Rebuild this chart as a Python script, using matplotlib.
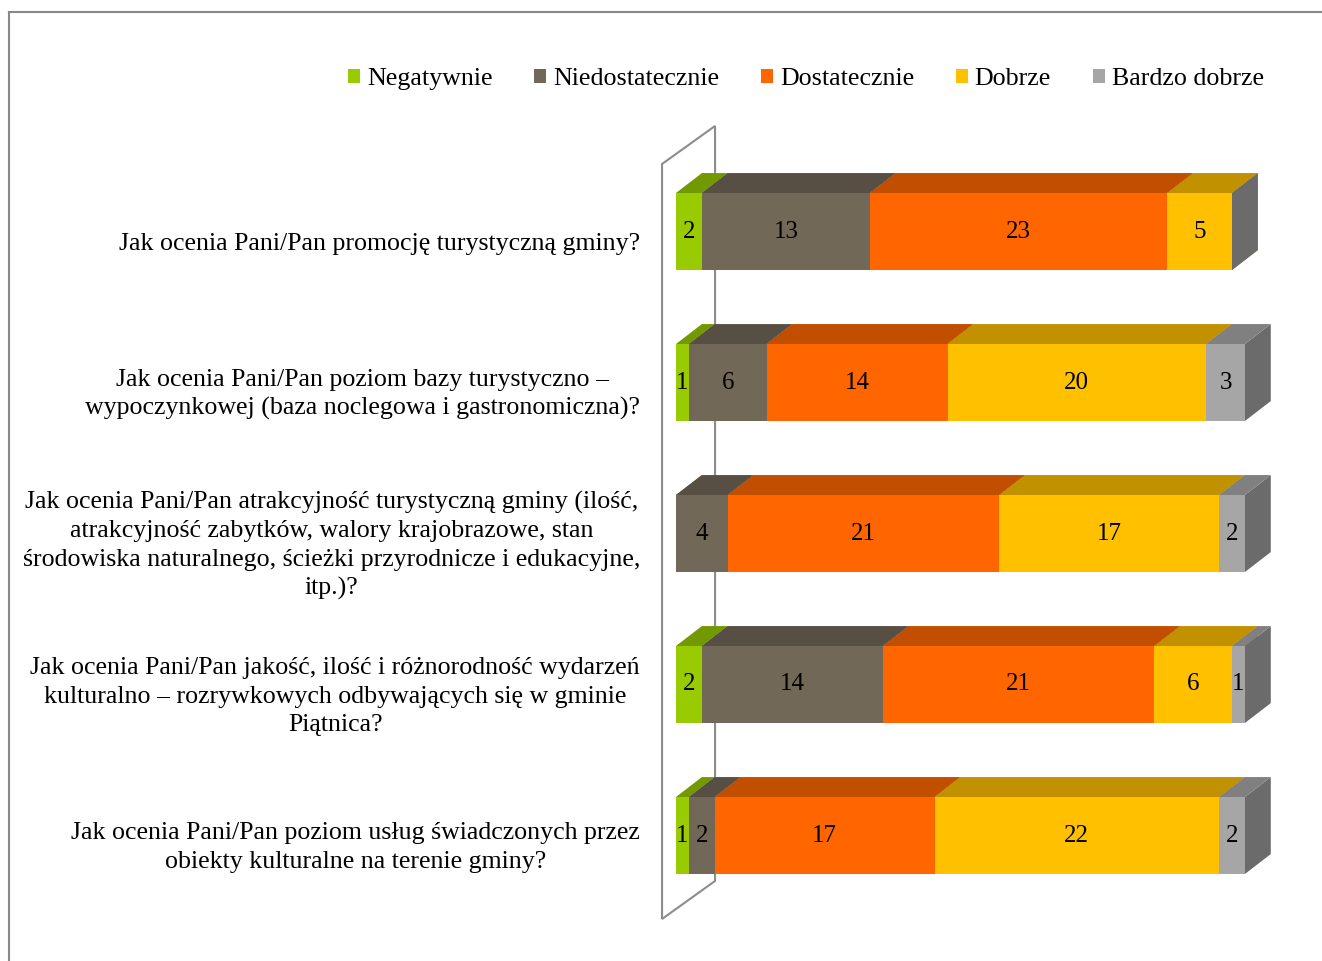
import matplotlib
matplotlib.use("Agg")
import matplotlib.pyplot as plt
from matplotlib.patches import Polygon, Patch, Rectangle
from matplotlib.lines import Line2D
import matplotlib.transforms as mtransforms

plt.rcParams['font.family'] = ['Liberation Serif', 'DejaVu Serif']

questions = [
    "Jak ocenia Pani/Pan promocję turystyczną gminy?",
    "Jak ocenia Pani/Pan poziom bazy turystyczno –\nwypoczynkowej (baza noclegowa i gastronomiczna)?",
    "Jak ocenia Pani/Pan atrakcyjność turystyczną gminy (ilość,\natrakcyjność zabytków, walory krajobrazowe, stan\nśrodowiska naturalnego, ścieżki przyrodnicze i edukacyjne,\nitp.)?",
    "Jak ocenia Pani/Pan jakość, ilość i różnorodność wydarzeń\nkulturalno – rozrywkowych odbywających się w gminie\nPiątnica?",
    "Jak ocenia Pani/Pan poziom usług świadczonych przez\nobiekty kulturalne na terenie gminy?",
]
series = ["Negatywnie", "Niedostatecznie", "Dostatecznie", "Dobrze", "Bardzo dobrze"]
negatywnie = [2, 1, 0, 2, 1]
niedostatecznie = [13, 6, 4, 14, 2]
dostatecznie = [23, 14, 21, 21, 17]
dobrze = [5, 20, 17, 6, 22]
bardzo_dobrze = [0, 3, 2, 1, 2]
values = [negatywnie, niedostatecznie, dostatecznie, dobrze, bardzo_dobrze]

front_colors = ["#99CC00", "#716858", "#FF6600", "#FFC000", "#A6A6A6"]
top_colors = ["#739900", "#574F44", "#C24E00", "#C29100", "#808080"]
side_colors = ["#5F7F00", "#4A4339", "#A54200", "#A57B00", "#6B6B6B"]

W, H = 1322, 961
fig = plt.figure(figsize=(W / 100, H / 100), dpi=100)
ax = fig.add_axes([676 / W, 0, 1 - 676 / W, 1])
unit = 12.93  # px per value unit
ax.set_xlim(0, (W - 676) / unit)
ax.set_ylim((H - 231.5) / 151, -231.5 / 151)
ax.axis('off')

bar_h = 0.51
ddx, ddy = 2.0, -0.132       # bar depth offset (data units)
wdx, wdy = 4.1, -0.252       # wall depth offset
wall_front = -1.08

n = len(questions)
wall_top, wall_bot = -0.447, n - 1 + 0.553
wall_pts = [(wall_front, wall_bot), (wall_front, wall_top),
            (wall_front + wdx, wall_top + wdy), (wall_front + wdx, wall_bot + wdy)]
ax.add_patch(Polygon(wall_pts, closed=True, facecolor='none', edgecolor='#8C8C8C',
                     linewidth=1.5, clip_on=False, zorder=1))

for i in range(n):
    left = 0.0
    y0 = i - bar_h / 2
    y1 = i + bar_h / 2
    for s in range(len(series)):
        v = values[s][i]
        right = left + v
        side = [(right, y1), (right, y0), (right + ddx, y0 + ddy), (right + ddx, y1 + ddy)]
        top = [(left, y0), (right, y0), (right + ddx, y0 + ddy), (left + ddx, y0 + ddy)]
        ax.add_patch(Polygon(side, closed=True, facecolor=side_colors[s], edgecolor='none',
                             clip_on=False, zorder=2))
        if v > 0:
            ax.add_patch(Polygon(top, closed=True, facecolor=top_colors[s], edgecolor='none',
                                 clip_on=False, zorder=2))
            ax.add_patch(Rectangle((left, y0), v, bar_h, facecolor=front_colors[s],
                                   edgecolor='none', clip_on=False, zorder=2))
            ax.text(left + v / 2, i, str(v), ha='center', va='center', fontsize=18,
                    color='black', zorder=3)
        left = right

lab_tr = ax.transData + mtransforms.ScaledTranslation(-36 / 100, -12 / 100, fig.dpi_scale_trans)
for i, q in enumerate(questions):
    ax.text(0, i, q, ha='right', va='center', multialignment='center', fontsize=18.6,
            transform=lab_tr, linespacing=1.38)

handles = [Patch(facecolor=c, edgecolor='none') for c in front_colors]
fig.legend(handles, series, loc='center', bbox_to_anchor=(806 / W, 1 - 79 / H), ncol=5,
           frameon=False, fontsize=18.7, handlelength=0.46, handleheight=0.46,
           handletextpad=0.27, columnspacing=1.6)

fig.add_artist(Line2D([9 / W, 9 / W], [0, 1 - 12 / H], color='#888888', lw=1.5))
fig.add_artist(Line2D([9 / W, 1], [1 - 12 / H, 1 - 12 / H], color='#888888', lw=1.5))

fig.savefig("out.png", dpi=100)
